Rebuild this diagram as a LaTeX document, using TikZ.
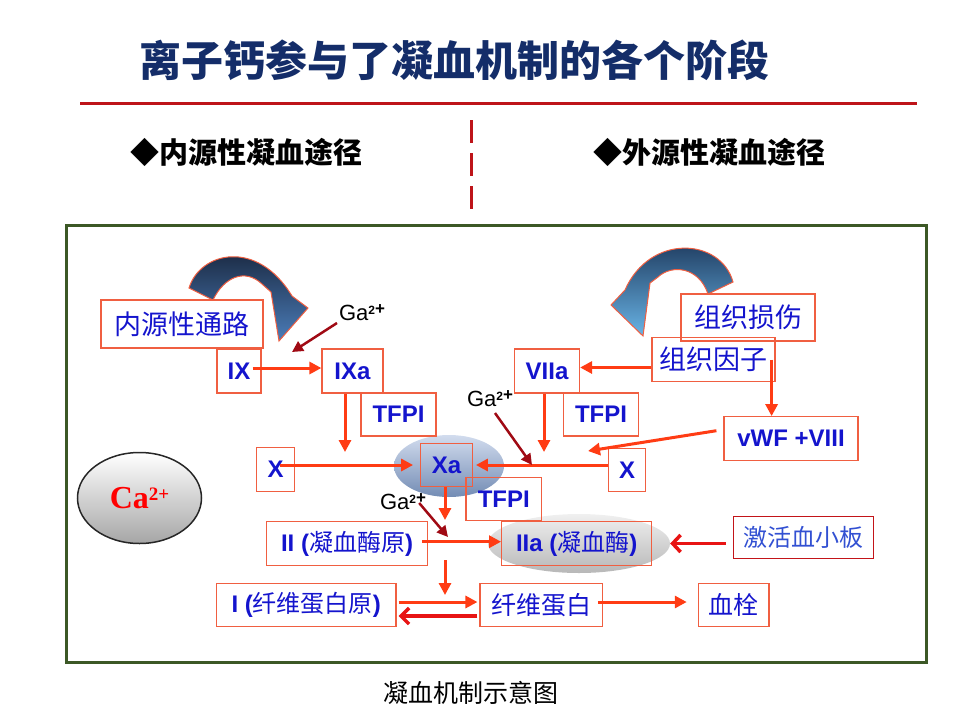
\documentclass[tikz,border=0pt]{standalone}
\usepackage{fontspec}
\setmainfont{Liberation Sans}
\newfontfamily\cjk{Noto Sans CJK SC}
\newfontfamily\caserif{Liberation Serif}
\usetikzlibrary{arrows.meta,positioning,shapes.geometric}
\definecolor{boxred}{RGB}{240,95,65}
\definecolor{arrred}{RGB}{255,60,20}
\definecolor{backred}{RGB}{232,20,20}
\definecolor{txtblue}{RGB}{20,20,205}
\definecolor{plblue}{RGB}{50,80,210}
\definecolor{plred}{RGB}{195,20,25}
\definecolor{ganred}{RGB}{160,10,20}
\definecolor{titleblue}{RGB}{20,45,105}
\definecolor{lineRed}{RGB}{190,20,25}
\definecolor{frameGreen}{RGB}{60,88,38}
\definecolor{navyDark}{RGB}{20,30,50}
\definecolor{navyMid}{RGB}{75,125,185}
\definecolor{skyDark}{RGB}{25,50,85}
\definecolor{skyLight}{RGB}{105,180,230}
\definecolor{xaTop}{RGB}{210,220,238}
\definecolor{xaBot}{RGB}{115,140,180}
\newcommand{\setfs}[1]{\fontsize{#1}{#1}\selectfont}
\newcommand{\gaion}{Ga\raisebox{6pt}{\setfs{12}\bfseries 2}\raisebox{6pt}{\setfs{17}\bfseries +}}
\begin{document}
\begin{tikzpicture}[x=1pt, y=-1pt,
  box/.style={draw=boxred, line width=1.2pt, text=txtblue, inner sep=0pt, font=\setfs{24}\bfseries},
  cbox/.style={box, font=\setfs{27}\cjk},
  arr/.style={draw=arrred, line width=3pt, -{Triangle[length=12pt,width=12pt]}},
  backarr/.style={draw=backred, line width=3.5pt, -{Straight Barb[length=8pt,width=16pt]}},
  plarr/.style={draw=backred, line width=3.5pt, -{Straight Barb[length=8pt,width=17pt]}},
  gaarr/.style={draw=ganred, line width=2.5pt, -{Triangle[length=11pt,width=11pt]}},
  ga/.style={font=\setfs{22}, inner sep=0pt},
  curvearrow/.style={draw=boxred, line width=1pt}]
\useasboundingbox (0,0) rectangle (960,720);
\node[font=\setfs{42}\cjk\bfseries, text=titleblue] (title) at (454,60) {离子钙参与了凝血机制的各个阶段};
\draw[lineRed, line width=3pt] (80,103) -- (917,103);
\node[font=\setfs{29}\cjk\bfseries] (neisub) at (246,152) {◆内源性凝血途径};
\node[font=\setfs{29}\cjk\bfseries] (waisub) at (709,152) {◆外源性凝血途径};
\draw[lineRed, line width=3pt, dash pattern=on 23pt off 10pt] (471,120) -- (471,210);
\draw[frameGreen, line width=3pt] (66,225) rectangle (926,662);
\node[font=\setfs{25}\cjk] (caption) at (471,693) {凝血机制示意图};

\draw[curvearrow, top color=navyDark, bottom color=navyMid] (189,288) .. controls (200,252) and (257,238) .. (292,296) -- (308,308) -- (279,341) -- (271,292) -- (262,284) .. controls (245,268) and (224,277) .. (213,300) -- cycle;
\draw[curvearrow, top color=skyDark, bottom color=skyLight] (733,282) .. controls (721,238) and (650,233) .. (625,290) -- (611,305) -- (643,336) -- (650,283) -- (658,277) .. controls (672,264) and (699,267) .. (708,294) -- cycle;

\node[ellipse, minimum width=124pt, minimum height=91pt, draw=black!85, line width=1.5pt, top color=white, bottom color=black!35] (ca) at (139.5,498) {\caserif\bfseries\color{red}\setfs{32}Ca\raisebox{8pt}{\setfs{19}2+}};
\node[ellipse, minimum width=110pt, minimum height=62pt, top color=xaTop, bottom color=xaBot] (xaell) at (449,466) {};
\node[ellipse, minimum width=182pt, minimum height=59pt, top color=black!6, middle color=white, bottom color=black!28] (iaell) at (579,543.5) {};

\node[cbox, minimum width=162pt, minimum height=48pt] (nei) at (182,324) {内源性通路};
\node[box, minimum width=44pt, minimum height=44pt] (ix) at (239,371) {IX};
\node[box, minimum width=61pt, minimum height=44pt] (ixa) at (352.5,371) {IXa};
\node[box, minimum width=75pt, minimum height=43pt] (tfpiA) at (398.5,414.5) {TFPI};
\node[cbox, minimum width=134pt, minimum height=47pt] (sunshang) at (748,317.5) {组织损伤};
\node[cbox, minimum width=123pt, minimum height=44pt] (yinzi) at (713.5,359.5) {组织因子};
\node[box, minimum width=65pt, minimum height=44pt] (viia) at (547,371) {VIIa};
\node[box, minimum width=75pt, minimum height=43pt] (tfpiB) at (601,414.5) {TFPI};
\node[box, minimum width=134pt, minimum height=44pt] (vwf) at (791,438.7) {vWF +VIII};
\node[box, minimum width=37.6pt, minimum height=44pt] (xl) at (275.5,469.7) {X};
\node[box, minimum width=51.6pt, minimum height=43.4pt] (xa) at (446.5,465) {Xa};
\node[box, minimum width=37pt, minimum height=43.4pt] (xr) at (627.2,470) {X};
\node[box, minimum width=75.7pt, minimum height=43.4pt] (tfpiC) at (503.8,499) {TFPI};
\node[box, minimum width=160.6pt, minimum height=44pt] (ii) at (347,543.7) {II ({\cjk\mdseries 凝血酶原})};
\node[box, minimum width=150pt, minimum height=44pt] (iia) at (576.7,543.7) {IIa ({\cjk\mdseries 凝血酶})};
\node[draw=plred, line width=1.2pt, text=plblue, inner sep=0pt, font=\setfs{24}\cjk, minimum width=140pt, minimum height=41.7pt] (xueban) at (803.3,537.5) {激活血小板};
\node[box, minimum width=179.3pt, minimum height=43.4pt] (fbgn) at (306.3,605) {I ({\cjk\mdseries 纤维蛋白原})};
\node[cbox, font=\setfs{25}\cjk, minimum width=122.3pt, minimum height=43.4pt] (fib) at (541.2,605) {纤维蛋白};
\node[cbox, font=\setfs{25}\cjk, minimum width=70.7pt, minimum height=43.4pt] (shuan) at (733.7,605) {血栓};

\node[ga] (gaA) at (362,313) {\gaion};
\node[ga] (gaB) at (490,399) {\gaion};
\node[ga] (gaC) at (403,502) {\gaion};

\coordinate (ixaend) at (345,452);
\coordinate (viiaend) at (544,452);
\coordinate (vwfend) at (588,451);
\coordinate (xaend) at (445,520);
\coordinate (iidown) at (445,560);
\coordinate (iiend) at (445,595);
\coordinate (gaAend) at (292,352);
\coordinate (gaBend) at (532,465);
\coordinate (gaCend) at (448,537);

\draw[arr] ([shift={(-9,-3)}]ix.east) -- ([shift={(0,-3)}]ixa.west);
\draw[arr] (ixa.south -| ixaend) -- (ixaend);
\draw[arr] (viia.south -| viiaend) -- (viiaend);
\draw[arr] ([shift={(0,8)}]yinzi.west) -- ([shift={(0,8)}]yinzi.west -| viia.east);
\draw[arr] ([shift={(-4,0)}]yinzi.east) -- ([shift={(-4,0)}]yinzi.east |- vwf.north);
\draw[arr] ([shift={(-7,-8)}]vwf.west) -- (vwfend);
\draw[arr] ([shift={(4,0)}]xl.center |- xa.center) -- ([shift={(-7,0)}]xa.west);
\draw[arr] (xr.west |- xa.center) -- ([shift={(3,0)}]xa.east);
\draw[arr] (xa.south -| xaend) -- (xaend);
\draw[arr] ([shift={(-6,-2)}]ii.east) -- ([shift={(0,-2)}]iia.west);
\draw[arr] (iidown) -- (iiend);
\draw[arr] ([shift={(2,-3)}]fbgn.east) -- ([shift={(-2,-3)}]fib.west);
\draw[backarr] ([shift={(-2,11)}]fib.west) -- ([shift={(2,11)}]fbgn.east);
\draw[arr] ([shift={(-5,-3)}]fib.east) -- ([shift={(-11,-3)}]shuan.west);
\draw[plarr, shorten <=7pt] (xueban.west |- iaell.east) -- (iaell.east);

\draw[gaarr] ([shift={(-25,10)}]gaA.center) -- (gaAend);
\draw[gaarr] ([shift={(5,14)}]gaB.center) -- (gaBend);
\draw[gaarr] ([shift={(-7,1)}]gaC.east) -- (gaCend);
\end{tikzpicture}
\end{document}
